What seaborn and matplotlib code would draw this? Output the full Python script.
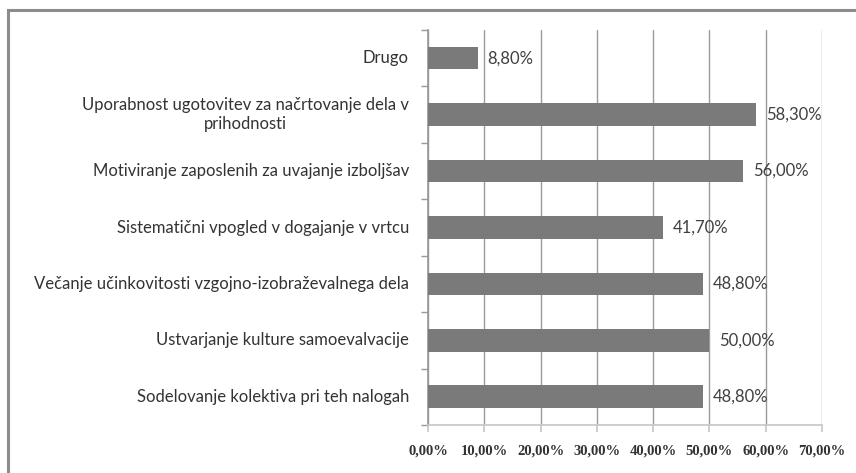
import matplotlib
matplotlib.use("Agg")
import matplotlib.pyplot as plt
import seaborn as sns
import pandas as pd
from matplotlib.patches import Rectangle
from matplotlib.ticker import FuncFormatter, MultipleLocator
from matplotlib.transforms import offset_copy

categories = [
    "Drugo",
    "Uporabnost ugotovitev za načrtovanje dela v\nprihodnosti",
    "Motiviranje zaposlenih za uvajanje izboljšav",
    "Sistematični vpogled v dogajanje v vrtcu",
    "Večanje učinkovitosti vzgojno-izobraževalnega dela",
    "Ustvarjanje kulture samoevalvacije",
    "Sodelovanje kolektiva pri teh nalogah",
]
values = [8.8, 58.3, 56.0, 41.7, 48.8, 50.0, 48.8]
value_labels = ["8,80%", "58,30%", "56,00%", "41,70%", "48,80%", "50,00%", "48,80%"]

sns.set_theme(style="white")
plt.rcParams["font.family"] = ["Lato", "DejaVu Sans"]

df = pd.DataFrame({"cat": categories, "val": values})

fig = plt.figure(figsize=(8.56, 4.73), dpi=100)
ax = fig.add_axes([428 / 856, 1 - 425 / 473, (822 - 428) / 856, (425 - 30) / 473])

# outer frame
fig.patches.append(Rectangle((8 / 856, -0.05), 1.2, 1 - 10 / 473 + 0.05,
                             transform=fig.transFigure, fill=False,
                             edgecolor="#8c8c8c", linewidth=2.2, zorder=0))

sns.barplot(data=df, x="val", y="cat", orient="h", color="#7a7a7a",
            saturation=1, width=0.4, ax=ax, zorder=3, edgecolor="none")

ax.set_xlim(0, 70)
ax.set_ylim(len(categories) - 0.5, -0.5)
ax.xaxis.set_major_locator(MultipleLocator(10))
ax.xaxis.set_major_formatter(FuncFormatter(lambda v, p: f"{v:.2f}%".replace(".", ",")))
ax.grid(axis="x", color="#9a9a9a", linewidth=1.0, zorder=0)
ax.set_axisbelow(True)
ax.set_xlabel("")
ax.set_ylabel("")

for s in ["top", "right"]:
    ax.spines[s].set_visible(False)
ax.spines["left"].set_color("#999999")
ax.spines["bottom"].set_color("#c8c8c8")

# category boundary ticks on y axis; category names drawn as centred multi-line text
ax.set_yticks(range(len(categories)))
ax.set_yticklabels([])
ax.set_yticks([i - 0.5 for i in range(len(categories) + 1)], minor=True)
ax.tick_params(axis="y", which="major", length=0)
ax.tick_params(axis="y", which="minor", length=5, color="#999999", direction="out", left=True)
ax.tick_params(axis="x", which="major", length=5, color="#c8c8c8", direction="out", bottom=True,
               pad=9, labelsize=10.5, labelcolor="#333333")

ytrans = offset_copy(ax.get_yaxis_transform(), fig=fig, x=-19, y=0, units="dots")
for i, c in enumerate(categories):
    ax.text(0, i, c, transform=ytrans, ha="right", va="center", multialignment="center",
            fontsize=12, color="#333333", linespacing=1.25)

for i, (v, t) in enumerate(zip(values, value_labels)):
    ax.text(v + 1.8, i, t, va="center", ha="left", fontsize=12, color="#404040", zorder=4)

for lbl in ax.get_xticklabels():
    lbl.set_fontfamily(["Liberation Serif", "DejaVu Serif"])
    lbl.set_fontweight("bold")

fig.savefig("out.png", dpi=100)
